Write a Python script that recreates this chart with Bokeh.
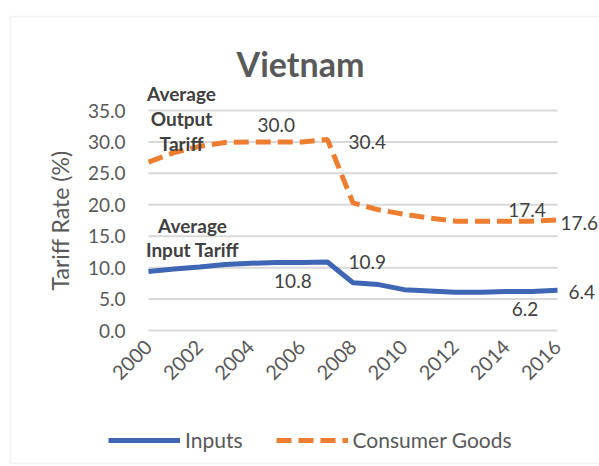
import math
from bokeh.plotting import figure
from bokeh.models import (Label, Legend, LegendItem, FixedTicker, Range1d, BoxAnnotation,
                          CustomJSTickFormatter)
from bokeh.embed import file_html
from bokeh.resources import INLINE

# ---------------- data ----------------
years = list(range(2000, 2017))
inputs = [9.4, 9.8, 10.1, 10.5, 10.7, 10.8, 10.8, 10.9, 7.6, 7.3, 6.5, 6.3, 6.1, 6.1, 6.2, 6.2, 6.4]
consumer = [26.8, 28.3, 29.3, 29.9, 30.0, 30.0, 30.0, 30.4, 20.3, 19.2, 18.5, 17.9, 17.4, 17.4, 17.4, 17.4, 17.6]
x_ticks = list(range(2000, 2017, 2))
y_ticks = [0, 5, 10, 15, 20, 25, 30, 35]
series_names = ["Inputs", "Consumer Goods"]
title_text = "Vietnam"
y_title = "Tariff Rate (%)"

# data labels shown: year and placement
inp_lbl_years = [2006, 2007, 2015, 2016]
con_lbl_years = [2005, 2007, 2015, 2016]

# ---------------- layout ----------------
W, H = 599, 466
FL, FR, FT, FB = 148, 557, 110, 330          # pixel box of the value area
ppx = (FR - FL) / (years[-1] - years[0])
ppy = (FB - FT) / (y_ticks[-1] - y_ticks[0])
xr = Range1d(years[0] - FL / ppx, years[-1] + (W - FR) / ppx)
yr = Range1d(y_ticks[0] - (H - FB) / ppy, y_ticks[-1] + FT / ppy)

FONT = "Lato"
GREY = "#595959"
DARK = "#404040"
BLUE = "#3f66b5"
ORANGE = "#ED7D31"
GRIDC = "#d9d9d9"

p = figure(width=W, height=H, output_backend="svg", toolbar_location=None,
           x_range=xr, y_range=yr, min_border=0,
           min_border_left=0, min_border_right=0, min_border_top=0, min_border_bottom=0)
p.outline_line_color = None
p.background_fill_color = "white"
p.border_fill_color = "white"
p.xgrid.grid_line_color = None
p.ygrid.grid_line_color = None

# chart-area border
p.add_layout(BoxAnnotation(left=10, right=W + 50, top=H - 16, bottom=H - 463,
                           left_units="screen", right_units="screen",
                           top_units="screen", bottom_units="screen",
                           fill_alpha=0, line_color=GRIDC, line_width=1.5))

# gridlines
p.segment(x0=years[0], x1=years[-1], y0=y_ticks, y1=y_ticks, line_color=GRIDC, line_width=2)

# axes
p.xaxis.fixed_location = y_ticks[0]
p.yaxis.fixed_location = years[0]
p.xaxis.bounds = (years[0], years[-1])
p.yaxis.bounds = (y_ticks[0], y_ticks[-1])
p.xaxis.ticker = FixedTicker(ticks=x_ticks)
p.yaxis.ticker = FixedTicker(ticks=y_ticks)
p.yaxis.formatter = CustomJSTickFormatter(code="return tick.toFixed(1);")
for ax in (p.xaxis[0], p.yaxis[0]):
    ax.axis_line_color = None
    ax.major_tick_line_color = None
    ax.minor_tick_line_color = None
    ax.major_tick_out = 0
    ax.major_tick_in = 0
    ax.minor_tick_out = 0
    ax.minor_tick_in = 0
    ax.major_label_text_font = FONT
    ax.major_label_text_color = GREY
    ax.major_label_text_font_size = "19px"
p.xaxis.major_label_text_font_size = "20px"
p.xaxis.major_label_orientation = math.pi / 4
p.xaxis.major_label_standoff = 13
p.yaxis.major_label_standoff = 23
p.yaxis.axis_label = y_title
p.yaxis.axis_label_text_font = FONT
p.yaxis.axis_label_text_font_style = "normal"
p.yaxis.axis_label_text_font_size = "23px"
p.yaxis.axis_label_text_color = GREY
p.yaxis.axis_label_standoff = 11

# lines
r1 = p.line(years, inputs, line_color=BLUE, line_width=5)
r2 = p.line(years, consumer, line_color=ORANGE, line_width=5, line_dash="15 7")

# data labels
def add_label(vals, yr_, xo, yo, align, base):
    v = vals[years.index(yr_)]
    p.add_layout(Label(x=yr_, y=v, text=f"{v:.1f}", text_font=FONT, text_font_size="19px",
                       text_color=DARK, text_align=align, text_baseline=base,
                       x_offset=xo, y_offset=yo))

add_label(consumer, con_lbl_years[0], 0, 10, "center", "bottom")
add_label(consumer, con_lbl_years[1], 21, -3, "left", "middle")
add_label(consumer, con_lbl_years[2], -5, 4, "center", "bottom")
add_label(consumer, con_lbl_years[3], 3, -3, "left", "middle")
add_label(inputs, inp_lbl_years[0], -9, -11, "center", "top")
add_label(inputs, inp_lbl_years[1], 21, 0, "left", "middle")
add_label(inputs, inp_lbl_years[2], -7, -10, "center", "top")
add_label(inputs, inp_lbl_years[3], 11, -2, "left", "middle")

# title
p.add_layout(Label(x=300, y=H - 63, x_units="screen", y_units="screen", text=title_text,
                   text_font=FONT, text_font_size="34px", text_font_style="bold",
                   text_color=GREY, text_align="center", text_baseline="middle"))

# series annotations
for txt, cx, cy in [("Average", 181, 93), ("Output", 181, 118), ("Tariff", 181, 143),
                    ("Average", 192, 225), ("Input Tariff", 192, 249)]:
    p.add_layout(Label(x=cx, y=H - cy, x_units="screen", y_units="screen", text=txt,
                       text_font=FONT, text_font_size="19px", text_font_style="bold",
                       text_color=DARK, text_align="center", text_baseline="middle"))

legend = Legend(items=[LegendItem(label=series_names[0], renderers=[r1]),
                       LegendItem(label=series_names[1], renderers=[r2])],
                orientation="horizontal", location=(108, H - 452),
                label_text_font=FONT, label_text_font_size="21px", label_text_color=GREY,
                glyph_width=72, glyph_height=24, spacing=33, border_line_color=None,
                background_fill_alpha=0, label_standoff=5, padding=0, margin=0)
p.add_layout(legend)

open("out.html", "w").write(file_html(p, INLINE))
